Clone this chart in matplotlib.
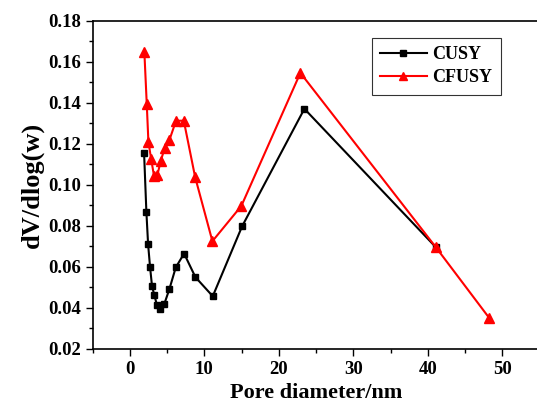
import matplotlib
matplotlib.use("Agg")
import matplotlib.pyplot as plt
from matplotlib.ticker import MultipleLocator

# pore size distribution data
cusy_x = [1.92, 2.23, 2.46, 2.72, 2.99, 3.3, 3.66, 4.11, 4.65, 5.32, 6.17, 7.29, 8.81, 11.14, 15.07, 23.44, 41.1]
cusy_y = [0.1155, 0.0867, 0.0710, 0.0600, 0.0505, 0.0462, 0.0412, 0.0397, 0.0421, 0.0492, 0.0597, 0.0665, 0.0550, 0.0457, 0.0797, 0.1370, 0.0695]

cfusy_x = [1.96, 2.28, 2.5, 2.86, 3.26, 3.71, 4.16, 4.7, 5.32, 6.21, 7.25, 8.77, 11.09, 14.98, 22.9, 41.1, 48.27]
cfusy_y = [0.1645, 0.1393, 0.1210, 0.1127, 0.1042, 0.1048, 0.1117, 0.1180, 0.1218, 0.1312, 0.1312, 0.1038, 0.0725, 0.0897, 0.1545, 0.0695, 0.0350]

plt.rcParams['font.family'] = ['Liberation Serif', 'DejaVu Serif']
plt.rcParams['font.weight'] = 'bold'

fig = plt.figure(figsize=(5.37, 4.05), dpi=100)
ax = fig.add_axes([0.1723, 0.1383, 0.8324, 0.811])

ax.plot(cusy_x, cusy_y, color='black', marker='s', markersize=5, linewidth=1.5, label='CUSY')
ax.plot(cfusy_x, cfusy_y, color='red', marker='^', markersize=6.5, linewidth=1.5, label='CFUSY')

ax.set_xlim(-5, 55)
ax.set_ylim(0.02, 0.18)
ax.xaxis.set_major_locator(MultipleLocator(10))
ax.xaxis.set_minor_locator(MultipleLocator(5))
ax.yaxis.set_major_locator(MultipleLocator(0.02))
ax.yaxis.set_minor_locator(MultipleLocator(0.01))
ax.tick_params(which='major', direction='out', length=5, width=1, labelsize=13.5)
ax.tick_params(which='minor', direction='out', length=3, width=1)
ax.set_xticks(range(0, 51, 10))
ax.set_xticklabels([str(v) for v in range(0, 51, 10)])
ax.set_yticklabels([f"{v:.2f}" for v in ax.get_yticks()])
for lab in ax.get_xticklabels() + ax.get_yticklabels():
    lab.set_fontweight('bold')

for s in ax.spines.values():
    s.set_linewidth(1.2)

ax.set_xlabel('Pore diameter/nm', fontsize=16, fontweight='bold', labelpad=4)
ax.set_ylabel('dV/dlog(w)', fontsize=19, fontweight='bold', labelpad=3)

leg = ax.legend(loc='upper left', bbox_to_anchor=(0.625, 0.947), borderaxespad=0,
                fontsize=13, frameon=True, fancybox=False, edgecolor='black',
                handlelength=2.6, handletextpad=0.3, borderpad=0.45, labelspacing=0.35)
leg.get_frame().set_linewidth(0.8)
leg.legend_handles[0].set_markersize(4.5)
leg.legend_handles[1].set_markersize(6)
for t in leg.get_texts():
    t.set_fontweight('bold')

fig.savefig('out.png', dpi=100)
